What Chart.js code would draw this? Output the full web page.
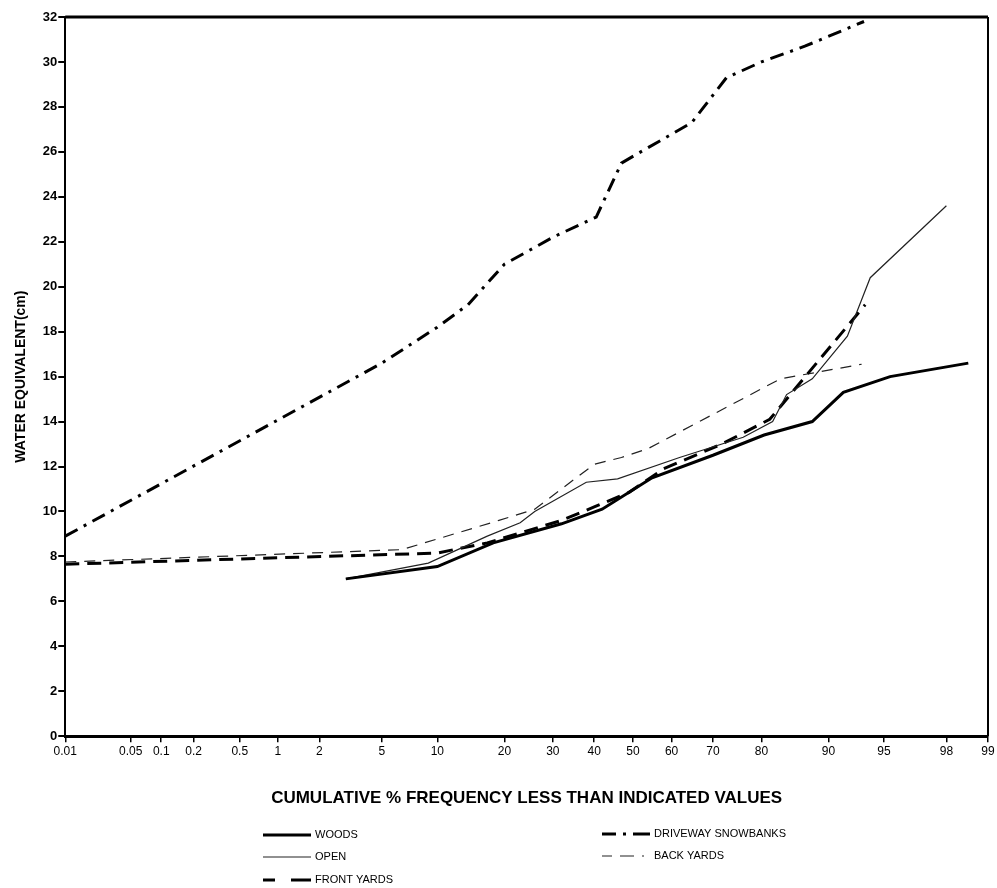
<!DOCTYPE html>
<html>
<head>
<meta charset="utf-8">
<script src="https://cdn.jsdelivr.net/npm/chart.js@4.4.1/dist/chart.umd.min.js"></script>
<style>
  html, body { margin: 0; padding: 0; background: #fff; }
</style>
</head>
<body>
<canvas id="graph" width="997" height="888"></canvas>
<script>
// cumulative % positions on the probability axis
const tickPcts = [0.01, 0.05, 0.1, 0.2, 0.5, 1, 2, 5, 10, 20, 30, 40, 50, 60, 70, 80, 90, 95, 98, 99];

const woodsPct = [3, 10, 18, 32, 42, 55, 70, 80.5, 88, 91.6, 95.4, 98.6];
const woodsVal = [7.0, 7.55, 8.6, 9.45, 10.1, 11.5, 12.5, 13.4, 14.0, 15.3, 16.0, 16.6];

const openPct = [3, 9, 17, 23, 26, 38, 46, 62, 76.5, 82, 84.3, 88, 92, 94, 98];
const openVal = [7.0, 7.7, 8.9, 9.5, 10.0, 11.3, 11.45, 12.4, 13.3, 14.0, 15.2, 15.9, 17.8, 20.4, 23.6];

const frontPct = [0.01, 10, 17, 32, 40, 49, 58, 72, 81.5, 93.6];
const frontVal = [7.65, 8.15, 8.6, 9.6, 10.2, 10.85, 11.9, 13.0, 14.1, 19.2];

const drivewayPct = [0.01, 5, 10, 14, 20, 30, 40.5, 47, 50, 65, 73, 80, 87, 93.5];
const drivewayVal = [8.9, 16.6, 18.2, 19.2, 21.0, 22.2, 23.1, 25.5, 25.8, 27.3, 29.3, 30.0, 30.7, 31.8];

const backPct = [0.01, 6.5, 19, 26, 40, 47, 54, 83.3, 93.3];
const backVal = [7.75, 8.3, 9.6, 10.1, 12.1, 12.4, 12.8, 15.9, 16.55];

const FONT = "'Liberation Sans', Arial, sans-serif";

// inverse normal cdf (Acklam)
function probit(p) {
  const a = [-39.69683028665376, 220.9460984245205, -275.9285104469687, 138.357751867269, -30.66479806614716, 2.506628277459239];
  const b = [-54.47609879822406, 161.5858368580409, -155.6989798598866, 66.80131188771972, -13.28068155288572];
  const c = [-0.007784894002430293, -0.3223964580411365, -2.400758277161838, -2.549732539343734, 4.374664141464968, 2.938163982698783];
  const d = [0.007784695709041462, 0.3224671290700398, 2.445134137142996, 3.754408661907416];
  const pl = 0.02425;
  if (p < pl) {
    const q = Math.sqrt(-2 * Math.log(p));
    return (((((c[0]*q+c[1])*q+c[2])*q+c[3])*q+c[4])*q+c[5]) / ((((d[0]*q+d[1])*q+d[2])*q+d[3])*q+1);
  }
  if (p <= 1 - pl) {
    const q = p - 0.5, r = q * q;
    return (((((a[0]*r+a[1])*r+a[2])*r+a[3])*r+a[4])*r+a[5])*q / (((((b[0]*r+b[1])*r+b[2])*r+b[3])*r+b[4])*r+1);
  }
  const q = Math.sqrt(-2 * Math.log(1 - p));
  return -(((((c[0]*q+c[1])*q+c[2])*q+c[3])*q+c[4])*q+c[5]) / ((((d[0]*q+d[1])*q+d[2])*q+d[3])*q+1);
}

// normal probability paper scale, values in percent
class ProbabilityScale extends Chart.Scale {
  determineDataLimits() {
    this.min = this.options.min;
    this.max = this.options.max;
  }
  buildTicks() {
    return tickPcts.map(v => ({ value: v }));
  }
  configure() {
    super.configure();
    this._zMin = probit(this.min / 100);
    this._zMax = probit(this.max / 100);
  }
  getLabelForValue(v) {
    return String(v);
  }
  getPixelForValue(v) {
    return this.getPixelForDecimal((probit(v / 100) - this._zMin) / (this._zMax - this._zMin));
  }
  getPixelForTick(i) {
    return this.getPixelForValue(this.ticks[i].value);
  }
  getValueForPixel(px) {
    return null;
  }
}
ProbabilityScale.id = "probability";
ProbabilityScale.defaults = {};
Chart.register(ProbabilityScale);

function pts(xs, ys) {
  return xs.map((x, i) => ({ x: x, y: ys[i] }));
}

// keyDash = dash pattern used for the legend sample
const series = [
  { label: "WOODS", data: pts(woodsPct, woodsVal), borderWidth: 3, borderDash: [], keyDash: [], borderColor: "#000" },
  { label: "OPEN", data: pts(openPct, openVal), borderWidth: 1.2, borderDash: [], keyDash: [], borderColor: "#222" },
  { label: "FRONT YARDS", data: pts(frontPct, frontVal), borderWidth: 3, borderDash: [14, 8], keyDash: [12, 16, 20, 40], borderColor: "#000" },
  { label: "DRIVEWAY SNOWBANKS", data: pts(drivewayPct, drivewayVal), borderWidth: 3, borderDash: [14, 7, 3, 7], keyDash: [14, 7, 3, 7, 17, 40], borderColor: "#000" },
  { label: "BACK YARDS", data: pts(backPct, backVal), borderWidth: 1.2, borderDash: [11, 8], keyDash: [10, 8, 14, 8, 2, 40], borderColor: "#222" },
];

// top and right frame lines
const framePlugin = {
  id: "frame",
  afterDraw(chart) {
    const ctx = chart.ctx;
    const a = chart.chartArea;
    ctx.save();
    ctx.strokeStyle = "#000";
    ctx.lineWidth = 3;
    ctx.beginPath();
    ctx.moveTo(a.left, a.top);
    ctx.lineTo(a.right, a.top);
    ctx.stroke();
    ctx.lineWidth = 2;
    ctx.beginPath();
    ctx.moveTo(a.right, a.top);
    ctx.lineTo(a.right, a.bottom);
    ctx.stroke();
    ctx.restore();
  },
};

// two-column legend under the axis title
const legendPlugin = {
  id: "twoColLegend",
  afterDraw(chart) {
    const ctx = chart.ctx;
    const spots = [
      [263, 835], [263, 857], [263, 880],
      [602, 834], [602, 856],
    ];
    ctx.save();
    ctx.font = "11px " + FONT;
    ctx.fillStyle = "#000";
    ctx.textBaseline = "middle";
    chart.data.datasets.forEach((ds, i) => {
      const [x, y] = spots[i];
      ctx.strokeStyle = ds.borderColor;
      ctx.lineWidth = ds.borderWidth;
      ctx.setLineDash(series[i].keyDash);
      ctx.beginPath();
      ctx.moveTo(x, y);
      ctx.lineTo(x + 48, y);
      ctx.stroke();
      ctx.setLineDash([]);
      ctx.fillText(ds.label, x + 52, y);
    });
    ctx.restore();
  },
};

new Chart(document.getElementById("graph"), {
  type: "line",
  data: {
    datasets: series.map(s => ({
      label: s.label,
      data: s.data,
      borderColor: s.borderColor,
      borderWidth: s.borderWidth,
      borderDash: s.borderDash,
      pointRadius: 0,
      tension: 0,
      fill: false,
    })),
  },
  options: {
    responsive: false,
    animation: false,
    layout: { padding: { top: 17, right: 9, left: 13, bottom: 79 } },
    plugins: { legend: { display: false }, tooltip: { enabled: false } },
    scales: {
      x: {
        type: "probability",
        min: 0.01,
        max: 99,
        grid: { drawOnChartArea: false, drawTicks: true, tickLength: 6, color: "#000", lineWidth: 1.5 },
        border: { display: true, color: "#000", width: 3 },
        ticks: { color: "#000", padding: 2, maxRotation: 0, autoSkip: false, font: { family: FONT, size: 12 } },
        title: {
          display: true,
          text: "CUMULATIVE % FREQUENCY LESS THAN INDICATED VALUES",
          color: "#000",
          padding: { top: 28, bottom: 0 },
          font: { family: FONT, size: 17, weight: "bold" },
        },
      },
      y: {
        min: 0,
        max: 32,
        grid: { drawOnChartArea: false, drawTicks: true, tickLength: 7, color: "#000", lineWidth: 2 },
        border: { display: true, color: "#000", width: 2 },
        ticks: { stepSize: 2, color: "#000", padding: 1, font: { family: FONT, size: 13, weight: "bold" } },
        title: {
          display: true,
          text: "WATER EQUIVALENT(cm)",
          color: "#000",
          padding: { top: 0, bottom: 12 },
          font: { family: FONT, size: 14, weight: "bold" },
        },
      },
    },
  },
  plugins: [framePlugin, legendPlugin],
});
</script>
</body>
</html>
